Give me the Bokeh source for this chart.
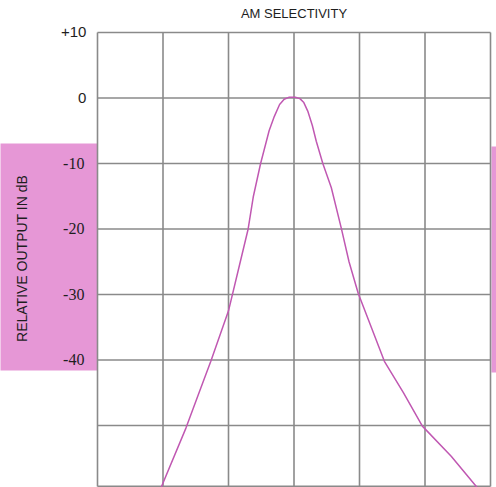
import math
from bokeh.plotting import figure
from bokeh.models import Range1d
from bokeh.core.properties import value
from bokeh.embed import file_html
from bokeh.resources import INLINE

title_text = "AM SELECTIVITY"
y_label = "RELATIVE OUTPUT IN dB"
x_grid = [-3, -2, -1, 0, 1, 2, 3]
y_grid = [10, 0, -10, -20, -30, -40, -50]
y_bottom = -59.3
serif_ticks = [-10, -20, -30, -40]
serif_tick_labels = ["-10", "-20", "-30", "-40"]
sans_ticks = [10, 0]
sans_tick_labels = ["+10", "0"]

curve_x = [-2.03, -1.65, -1.45, -1.27, -1.0, -0.82, -0.70, -0.62, -0.51, -0.38, -0.30, -0.22,
           -0.15, -0.08, 0.02, 0.09, 0.15, 0.21, 0.28, 0.34, 0.44, 0.57, 0.72, 0.84, 0.98,
           1.18, 1.38, 1.67, 1.96, 2.40, 2.79]
curve_y = [-59.5, -50.4, -45.0, -40.2, -32.5, -25.0, -20.0, -15.0, -10.0, -5.0, -2.8, -1.0,
           -0.2, 0.1, 0.1, -0.1, -0.7, -2.0, -4.2, -6.6, -10.0, -13.7, -19.8, -25.0, -29.8,
           -35.0, -40.2, -45.0, -50.1, -54.7, -59.4]

# pink side panels (data extents)
left_panel = dict(left=-4.49, right=-3.0, top=-6.95, bottom=-41.6)
right_panel = dict(left=3.015, right=3.1, top=-7.4, bottom=-41.9)

GRID = "#8a8a8a"
PINK = "#e697d6"
CURVE = "#c058b2"
TEXT = "#1e1e1e"

W, H = 496, 487
p = figure(width=W, height=H, x_range=Range1d(-4.481, 3.0916), y_range=Range1d(-59.47, 14.885),
           output_backend="svg", toolbar_location=None,
           min_border=0, min_border_left=0, min_border_right=0, min_border_top=0,
           min_border_bottom=0)
p.axis.visible = False
p.xgrid.visible = False
p.ygrid.visible = False
p.outline_line_color = None
p.title.visible = False

# pink panels
p.quad(left=[left_panel["left"], right_panel["left"]], right=[left_panel["right"], right_panel["right"]],
       top=[left_panel["top"], right_panel["top"]], bottom=[left_panel["bottom"], right_panel["bottom"]],
       fill_color=PINK, line_color=None)

# grid lines (including the border of the chart area)
hy = y_grid + [y_bottom]
p.segment(x0=[x_grid[0]] * len(hy), x1=[x_grid[-1]] * len(hy), y0=hy, y1=hy,
          line_color=GRID, line_width=1.6)
p.segment(x0=x_grid, x1=x_grid, y0=[y_bottom] * len(x_grid), y1=[y_grid[0]] * len(x_grid),
          line_color=GRID, line_width=1.6)

# curve
p.line(curve_x, curve_y, line_color=CURVE, line_width=1.5)

# tick labels
p.text(x=[-3.2] * len(serif_ticks), y=serif_ticks, text=serif_tick_labels,
       text_align="right", text_baseline="middle", text_font=value("Liberation Serif"),
       text_font_size="16px", text_color=TEXT)
p.text(x=[-3.17] * len(sans_ticks), y=sans_ticks, text=sans_tick_labels,
       text_align="right", text_baseline="middle", text_font=value("Liberation Sans"),
       text_font_size="15px", text_color=TEXT)

# axis title
p.text(x=[-4.16], y=[-24.5], text=[y_label], angle=math.pi / 2,
       text_align="center", text_baseline="middle", text_font=value("Liberation Sans"),
       text_font_size="14px", text_color=TEXT)

# chart title
p.text(x=[0.0], y=[12.9], text=[title_text], text_align="center", text_baseline="middle",
       text_font=value("Liberation Sans"), text_font_size="13px", text_color=TEXT)

open("out.html", "w").write(file_html(p, INLINE))
